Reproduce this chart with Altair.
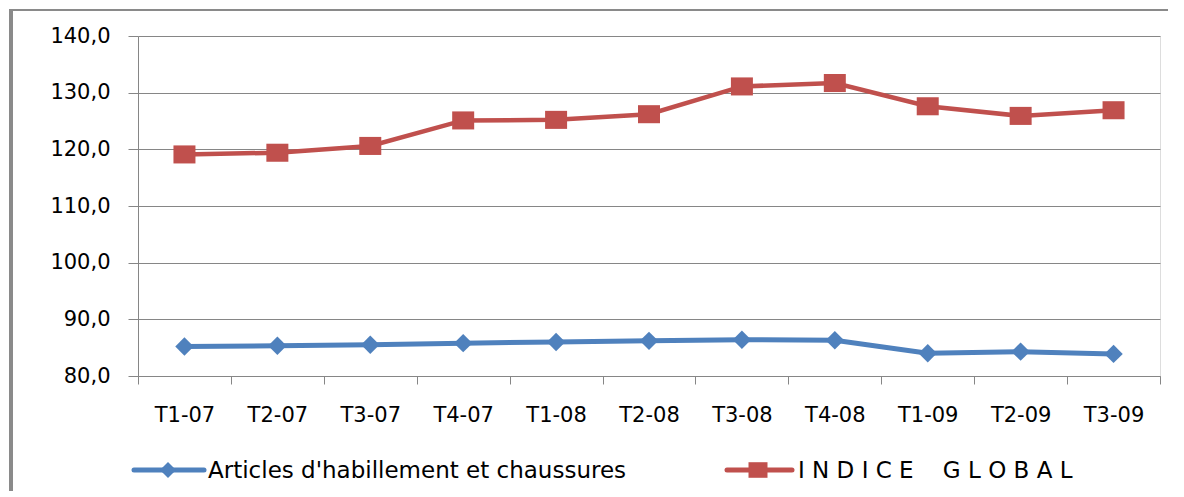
import altair as alt
import pandas as pd

quarters = ["T1-07", "T2-07", "T3-07", "T4-07", "T1-08", "T2-08",
            "T3-08", "T4-08", "T1-09", "T2-09", "T3-09"]
articles = [85.2, 85.35, 85.5, 85.8, 86.0, 86.2, 86.4, 86.3, 84.0, 84.3, 83.9]
indice = [119.1, 119.4, 120.6, 125.1, 125.2, 126.2, 131.1, 131.7, 127.6, 125.9, 126.9]
series_names = ["Articles d'habillement et chaussures",
                "I N D I C E\u00a0\u00a0\u00a0\u00a0G L O B A L"]
colors = ["#4F81BD", "#C0504D"]
y_ticks = [80, 90, 100, 110, 120, 130, 140]

df = pd.DataFrame({
    "quarter": quarters * 2,
    "value": articles + indice,
    "series": [series_names[0]] * len(quarters) + [series_names[1]] * len(quarters),
})

GRID = "#868686"
FONT = "DejaVu Sans"
SQUARE = "M-1,-0.82L1,-0.82L1,0.82L-1,0.82Z"

x_enc = alt.X(
    "quarter:N", sort=quarters,
    scale=alt.Scale(type="band", paddingInner=0, paddingOuter=0),
    axis=alt.Axis(title=None, labelAngle=0, tickBand="extent", tickSize=8,
                  labelPadding=20, labelFont=FONT, labelFontSize=21,
                  labelColor="#000000", domainColor=GRID, tickColor=GRID,
                  grid=False, labelBaseline="top"),
)
y_enc = alt.Y(
    "value:Q",
    scale=alt.Scale(domain=[80, 140], nice=False, zero=False),
    axis=alt.Axis(title=None, values=y_ticks, tickSize=10, labelPadding=18,
                  labelFont=FONT, labelFontSize=21, labelColor="#000000",
                  labelExpr="replace(format(datum.value, '.1f'), '.', ',')",
                  domainColor=GRID, tickColor=GRID, gridColor=GRID,
                  gridWidth=1, grid=True),
)
color_enc = alt.Color("series:N", scale=alt.Scale(domain=series_names, range=colors),
                      legend=None)

base = alt.Chart(df)

line_blue = base.transform_filter(alt.datum.series == series_names[0]).mark_line(
    strokeWidth=5).encode(x=x_enc, y=y_enc, color=color_enc)
line_red = base.transform_filter(alt.datum.series == series_names[1]).mark_line(
    strokeWidth=4.5).encode(x=x_enc, y=y_enc, color=color_enc)

pts_blue = base.transform_filter(alt.datum.series == series_names[0]).mark_point(
    filled=True, opacity=1, shape="diamond", size=340).encode(
    x=x_enc, y=y_enc, color=color_enc)
pts_red = base.transform_filter(alt.datum.series == series_names[1]).mark_point(
    filled=True, opacity=1, shape=SQUARE, size=484).encode(
    x=x_enc, y=y_enc, color=color_enc)

one = pd.DataFrame({"k": [0]})
lab0 = pd.DataFrame({"label": [series_names[0]]})
lab1 = pd.DataFrame({"label": [series_names[1]]})

leg_line_blue = alt.Chart(one).mark_rule(color=colors[0], strokeWidth=5, strokeCap="round").encode(
    x=alt.value(-4), x2=alt.value(66), y=alt.value(434))
leg_pt_blue = alt.Chart(one).mark_point(filled=True, opacity=1, shape="diamond", size=260,
                                        color=colors[0]).encode(
    x=alt.value(30), y=alt.value(434))
leg_txt_blue = alt.Chart(lab0).mark_text(align="left", baseline="alphabetic", font=FONT,
                                         fontSize=23, color="#000000").encode(
    text="label:N", x=alt.value(70), y=alt.value(442))

leg_line_red = alt.Chart(one).mark_rule(color=colors[1], strokeWidth=5, strokeCap="round").encode(
    x=alt.value(589), x2=alt.value(654), y=alt.value(434))
leg_pt_red = alt.Chart(one).mark_point(filled=True, opacity=1, shape=SQUARE, size=361,
                                       color=colors[1]).encode(
    x=alt.value(620), y=alt.value(434))
leg_txt_red = alt.Chart(lab1).mark_text(align="left", baseline="alphabetic", font=FONT,
                                        fontSize=23, color="#000000").encode(
    text="label:N", x=alt.value(660), y=alt.value(442))

border_left = alt.Chart(one).mark_rule(color="#8a8a8a", strokeWidth=4).encode(
    x=alt.value(-127), y=alt.value(-27), y2=alt.value(500))
border_top = alt.Chart(one).mark_rule(color="#8a8a8a", strokeWidth=2).encode(
    x=alt.value(-129), x2=alt.value(1100), y=alt.value(-26))

chart = alt.layer(
    line_blue, line_red, pts_blue, pts_red,
    leg_line_blue, leg_pt_blue, leg_txt_blue,
    leg_line_red, leg_pt_red, leg_txt_red,
    border_left, border_top,
).properties(
    width=1022, height=340,
    autosize=alt.AutoSizeParams(type="none"),
    padding={"left": 130, "top": 28, "right": 8, "bottom": 115},
).configure_view(stroke=None).configure(background="white")

chart.save("out.html", embed_options={"renderer": "svg", "actions": False})
